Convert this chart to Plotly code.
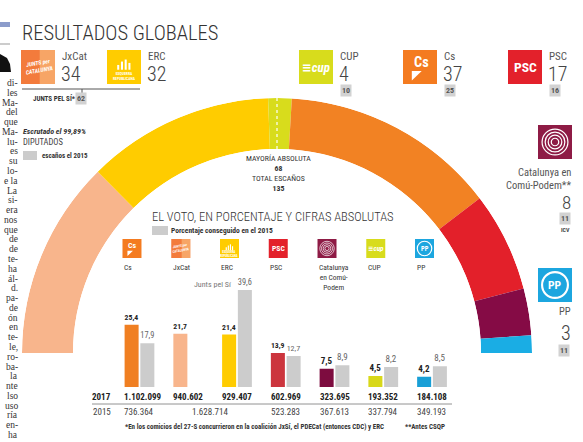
import numpy as np
import plotly.graph_objects as go

W, H = 583, 442

# ---------------- data ----------------
# Hemicycle (left to right)
hemi_parties = ["JxCat", "ERC", "CUP", "Cs", "PSC", "CeC", "PP"]
seats_2017 = [34, 32, 4, 37, 17, 8, 3]
seats_2015 = [None, None, 10, 25, 16, 11, 11]
jxsi_seats_2015 = 62
total_seats = 135
majority = 68

# Vote chart
vote_parties = ["Cs", "JxCat", "ERC", "PSC", "CeC", "CUP", "PP"]
vote_labels = ["Cs", "JxCat", "ERC", "PSC", "Catalunya<br>en Comú-<br>Podem", "CUP", "PP"]
pct_2017 = [25.4, 21.7, 21.4, 13.9, 7.5, 4.5, 4.2]
pct_2015 = [17.9, None, 39.6, 12.7, 8.9, 8.2, 8.5]
votes_2017 = [1102099, 940602, 929407, 602969, 323695, 193352, 184108]
votes_2015 = [736364, None, 1628714, 523283, 367613, 337794, 349193]

# ---------------- styles ----------------
FONT = "Roboto Condensed, Liberation Sans Narrow, DejaVu Sans Condensed, Roboto, sans-serif"
hemi_colors = {"JxCat": "#F8B58C", "ERC": "#FFCC00", "CUP": "#D8DC1C", "Cs": "#F28223",
               "PSC": "#E3202A", "CeC": "#850B45", "PP": "#1AADE4"}
bar_colors = {"Cs": "#F07F22", "JxCat": "#F8B58C", "ERC": "#FFCC00", "PSC": "#CC353D",
              "CeC": "#7D0C3F", "CUP": "#D8D81A", "PP": "#199FD6"}
GRAY = "#CCCCCC"


def px(x):
    return x / W


def py(y):
    return 1 - y / H


annotations = []
shapes = []


def T(text, x, y, size=9, color="#333", xa="left", ya="middle", weight=None,
      family=FONT, **kw):
    f = dict(size=size, color=color, family=family)
    if weight is not None:
        f["weight"] = weight
    annotations.append(dict(text=text, x=px(x), y=py(y), xref="paper", yref="paper",
                            xanchor=xa, yanchor=ya, showarrow=False, font=f, **kw))


def R(x0, y0, x1, y1, fill, line=None):
    shapes.append(dict(type="rect", xref="paper", yref="paper", x0=px(x0), x1=px(x1),
                       y0=py(y1), y1=py(y0), fillcolor=fill,
                       line=dict(width=0) if line is None else line, layer="above"))


def L(x0, y0, x1, y1, color="#666", width=1):
    shapes.append(dict(type="line", xref="paper", yref="paper", x0=px(x0), x1=px(x1),
                       y0=py(y0), y1=py(y1), line=dict(color=color, width=width)))


def C(cx, cy, r, color="white", width=1):
    shapes.append(dict(type="circle", xref="paper", yref="paper", x0=px(cx - r), x1=px(cx + r),
                       y0=py(cy + r), y1=py(cy - r), line=dict(color=color, width=width),
                       layer="above"))


def P(points, fill):
    d = "M " + " L ".join(f"{px(a):.5f},{py(b):.5f}" for a, b in points) + " Z"
    shapes.append(dict(type="path", xref="paper", yref="paper", path=d, fillcolor=fill,
                       line=dict(width=0), layer="above"))


def logo(key, x0, y0, s):
    cx, cy = x0 + s / 2, y0 + s / 2
    if key == "JxCat":
        R(x0, y0, x0 + s, y0 + s, "#F37B3C")
        R(x0 + s * 0.55, y0, x0 + s, y0 + s, "#F7A566")
        T("<b><i>JUNTS per<br>CATALUNYA</i></b>", cx, cy, size=max(3.5, s * 0.17),
          color="white", xa="center", textangle=-10)
    elif key == "ERC":
        R(x0, y0, x0 + s, y0 + s, "#FFCC00")
        for k, hgt in enumerate([0.14, 0.24, 0.3, 0.2]):
            bx = x0 + s * (0.3 + 0.11 * k)
            R(bx, y0 + s * (0.58 - hgt), bx + s * 0.06, y0 + s * 0.58, "white")
        T("<b>ESQUERRA<br>REPUBLICANA</b>", cx, y0 + s * 0.78, size=max(3, s * 0.11),
          color="white", xa="center")
    elif key == "CUP":
        R(x0, y0, x0 + s, y0 + s, "#D8DC1C")
        T("<b><i>≡cup</i></b>", cx, cy, size=s * 0.38, color="white", xa="center")
    elif key == "Cs":
        R(x0, y0, x0 + s, y0 + s, "#F47B20")
        T("<b>Cs</b>", cx + s * 0.03, y0 + s * 0.36, size=s * 0.42, color="white", xa="center")
        P([(x0 + s * 0.26, y0 + s * 0.62), (x0 + s * 0.55, y0 + s * 0.62),
           (x0 + s * 0.26, y0 + s * 0.9)], "white")
    elif key == "PSC":
        R(x0, y0, x0 + s, y0 + s, "#E3212B")
        T("<b>PSC</b>", cx, cy, size=s * 0.4, color="white", xa="center")
    elif key == "CeC":
        R(x0, y0, x0 + s, y0 + s, "#8E1B45")
        for fr in (0.38, 0.29, 0.2, 0.11):
            C(cx, cy, s * fr, width=max(0.7, s / 28))
    elif key == "PP":
        R(x0, y0, x0 + s, y0 + s, "#1CA6DF")
        C(cx, cy, s * 0.38, width=max(1, s / 16))
        T("<b>PP</b>", cx, cy, size=s * 0.34, color="white", xa="center")


def box(text, cx, cy, size=8):
    T(f"<b>{text}</b>", cx, cy, size=size, color="#555", xa="center",
      bgcolor="#D2D2D2", borderpad=1)


fig = go.Figure()

# ---------------- hemicycle ----------------
deg_per_seat = 180.0 / total_seats
cum = np.cumsum(seats_2017)
theta_c = [(c - s / 2) * deg_per_seat for c, s in zip(cum, seats_2017)]
theta_w = [s * deg_per_seat for s in seats_2017]
fig.add_trace(go.Barpolar(r=[1] * len(seats_2017), theta=theta_c, width=theta_w,
                          marker=dict(color=[hemi_colors[p] for p in hemi_parties],
                                      line=dict(width=0)),
                          hoverinfo="skip", showlegend=False))
maj_theta = (majority - 0.5) * deg_per_seat
fig.add_trace(go.Scatterpolar(r=[0, 1], theta=[maj_theta, maj_theta], mode="lines",
                              line=dict(color="white", width=1.2, dash="dot"),
                              hoverinfo="skip", showlegend=False))

# ---------------- bar chart ----------------
XD0, XD1 = 115.1, 456.4
BAR_Y0, BAR_Y1 = 387, 289
step = (XD1 - XD0) / len(vote_parties)


def cat_px(i):
    return XD0 + (i + 0.5) * step


fig.add_trace(go.Bar(x=vote_parties, y=pct_2017,
                     marker=dict(color=[bar_colors[p] for p in vote_parties], line=dict(width=0)),
                     texttemplate="<b>%{y:.1f}</b>", textposition="outside",
                     textfont=dict(size=9, color="#222", family=FONT), cliponaxis=False,
                     hoverinfo="skip", showlegend=False, xaxis="x", yaxis="y"))
fig.add_trace(go.Bar(x=vote_parties, y=pct_2015, marker=dict(color=GRAY, line=dict(width=0)),
                     texttemplate="%{y:.1f}", textposition="outside",
                     textfont=dict(size=9, color="#666", family=FONT), cliponaxis=False,
                     hoverinfo="skip", showlegend=False, xaxis="x", yaxis="y"))

# ---------------- texts ----------------
T("RESULTADOS GLOBALES", 20, 33, size=20.5, color="#333", weight=300)

# header parties
hdr = {"JxCat": (21, 50), "ERC": (107, 50), "CUP": (299, 50), "Cs": (403, 50), "PSC": (508, 50)}
for p, s17, s15 in zip(hemi_parties, seats_2017, seats_2015):
    if p in hdr:
        x0, y0 = hdr[p]
        logo(p, x0, y0, 34)
        T(p, x0 + 39, 56, size=11, color="#555")
        T(str(s17), x0 + 38, 74, size=20, color="#444", weight=300)
        if s15 is not None:
            box(s15, x0 + 47, 91)

L(22, 89, 140, 89, "#555", 1)
L(82, 89, 82, 93, "#555", 1)
T("<b>JUNTS PEL SÍ*</b>", 31, 99, size=7, color="#333")
box(jxsi_seats_2015, 81, 99)

# CeC right side
i_cec = hemi_parties.index("CeC")
logo("CeC", 538, 125, 34)
T("Catalunya en", 573, 173, size=10.5, color="#555", xa="right")
T("Comú-Podem**", 573, 185, size=10.5, color="#555", xa="right")
T(str(seats_2017[i_cec]), 573, 203, size=19, color="#444", xa="right", weight=300)
box(seats_2015[i_cec], 565, 218)
T("<b>ICV</b>", 565, 229, size=6, color="#444", xa="center")

# PP right side
i_pp = hemi_parties.index("PP")
logo("PP", 538, 268, 34)
T("PP", 573, 311.5, size=10.5, color="#555", xa="right")
T(str(seats_2017[i_pp]), 573, 333, size=20, color="#444", xa="right", weight=300)
box(seats_2015[i_pp], 564, 350)

# escrutado
T("<b><i>Escrutado el 99,89%</i></b>", 21, 131, size=8, color="#333")
T("DIPUTADOS", 21, 142, size=8.5, color="#444")
R(23, 151, 37, 160, GRAY)
T("<b>escaños el 2015</b>", 40, 155.5, size=7, color="#333")

# majority block (one multi-line text)
T(f"MAYORÍA ABSOLUTA<br><b>{majority}</b><br>TOTAL ESCAÑOS<br><b>{total_seats}</b>",
  278, 174, size=7.8, color="#333", xa="center")

# vote chart texts
T("EL VOTO, EN PORCENTAJE Y CIFRAS ABSOLUTAS", 150, 216, size=12.5, color="#333", weight=300)
R(152, 226, 168, 235, GRAY)
T("<b>Porcentaje conseguido en el 2015</b>", 169, 230.5, size=7.5, color="#333")

for i, (p, lab) in enumerate(zip(vote_parties, vote_labels)):
    left = cat_px(i) - 15.5
    logo(p, left - 1.5, 239, 19)
    T(lab, left - 2, 261, size=7.5, color="#333", ya="top")

i_erc = vote_parties.index("ERC")
T("Junts pel Sí", cat_px(i_erc) - 3, 284, size=8, color="#777", xa="right")

T("<b>2017</b>", 113, 397, size=9, color="#222", xa="right")
T("2015", 113, 412, size=9, color="#444", xa="right")
L(92, 404, 452, 404, "#777", 0.8)


def fmt(v):
    return f"{v:,}".replace(",", ".")


for i, v in enumerate(votes_2017):
    T(f"<b>{fmt(v)}</b>", cat_px(i) - 17, 397, size=9, color="#222")
for i, v in enumerate(votes_2015):
    if v is None:
        continue
    if i > 0 and votes_2015[i - 1] is None:
        T(fmt(v), (cat_px(i - 1) + cat_px(i)) / 2 - 3, 412, size=9, color="#444", xa="center")
    else:
        T(fmt(v), cat_px(i) - 17, 412, size=9, color="#444")

T("<b>*En los comicios del 27-S concurrieron en la coalición JxSí, el PDECat (entonces CDC) y ERC</b>",
  123, 427, size=7, color="#333")
T("<b>**Antes CSQP</b>", 403, 427, size=7, color="#333")

# newspaper column fragments on the left edge
col_lines = ["di-", "les", "Ma-", "del", "que", "Ma-", "lu-", "es", "su", "lo-", "e la", "La",
             "si-", "era", "nos", "que", "de", "de", "te-", "ha", "ál-", "d.", "pa-", "de", "ón",
             "en", "te-", "le,", "ro-", "ba-", "la", "nte", "lso", "uso", "ría", "en-", "ha"]
y_first, y_last = 83, 435
for k, t in enumerate(col_lines):
    yy = y_first + k * (y_last - y_first) / (len(col_lines) - 1)
    T(t, 20, yy, size=9.5, color="#333", xa="right", family="Liberation Serif, serif")
R(0, 22, 10, 27, "#8C9CCB")
L(0, 44, 10, 44, "#999", 1)
P([(-10, 72), (-10, 57), (0, 54), (7, 58), (10, 64), (11, 72)], "#111")

fig.update_layout(
    width=W, height=H, margin=dict(l=0, r=0, t=0, b=0, pad=0, autoexpand=False),
    paper_bgcolor="white", plot_bgcolor="rgba(0,0,0,0)",
    font=dict(family=FONT, color="#333"),
    separators=",.",
    showlegend=False,
    barmode="group", bargap=0.354, bargroupgap=0.11,
    xaxis=dict(domain=[px(XD0), px(XD1)], range=[-0.5, len(vote_parties) - 0.5], type="category",
               visible=False, fixedrange=True, anchor="y"),
    yaxis=dict(domain=[py(BAR_Y0), py(BAR_Y1)], range=[0, 40], visible=False, fixedrange=True,
               anchor="x"),
    polar=dict(domain=dict(x=[px(22), px(532)], y=[py(353), py(98)]), sector=[0, 180], hole=0.8,
               bgcolor="rgba(0,0,0,0)", bargap=0,
               radialaxis=dict(visible=False, range=[0, 1]),
               angularaxis=dict(visible=False, rotation=180, direction="clockwise")),
    annotations=annotations, shapes=shapes,
)

fig.write_html("out.html", config={"displayModeBar": False},
               post_script="document.body.style.margin='0';document.body.style.overflow='hidden';")
